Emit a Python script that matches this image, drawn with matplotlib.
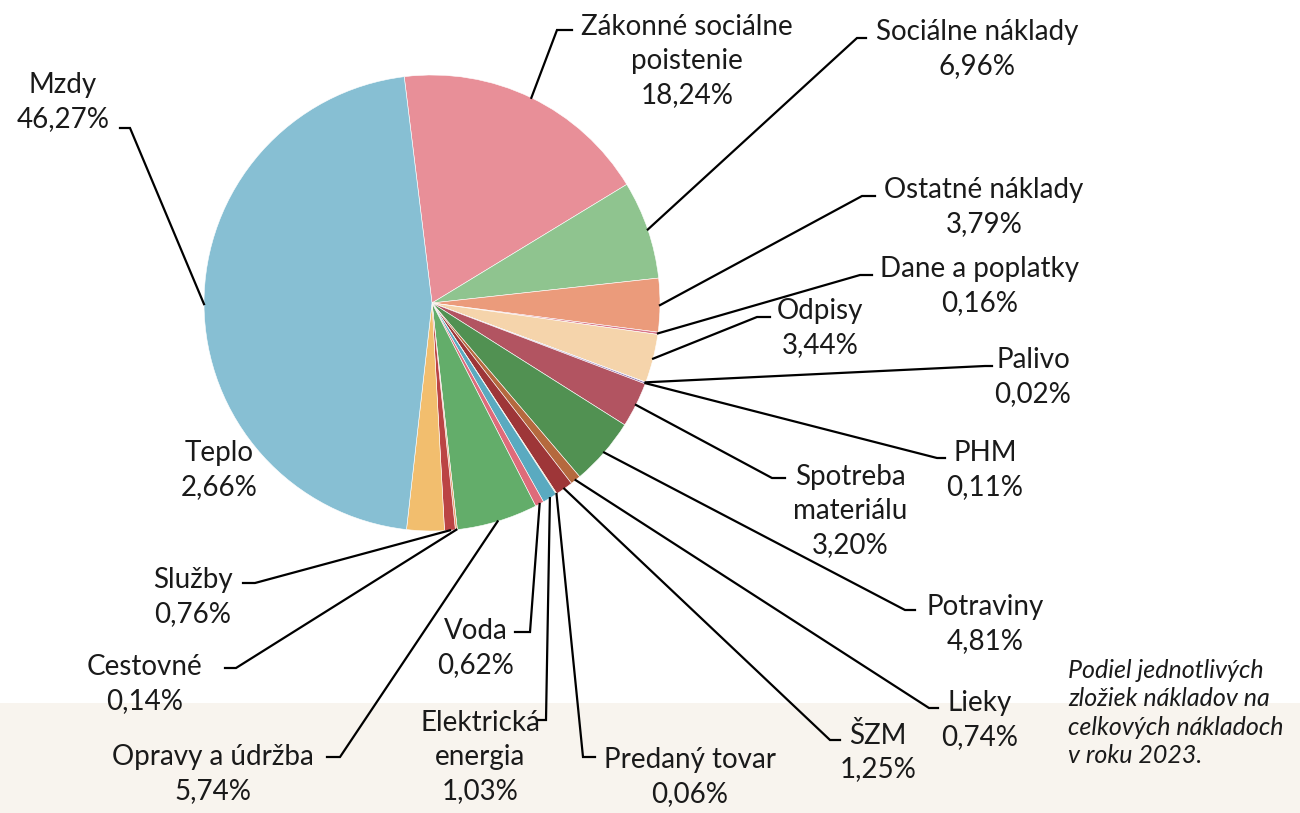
import numpy as np
import matplotlib.pyplot as plt
from matplotlib.patches import Rectangle

plt.rcParams['font.family'] = ['Lato', 'DejaVu Sans']

# Data (clockwise from the top)
labels = ["Zákonné sociálne\npoistenie", "Sociálne náklady", "Ostatné náklady", "Dane a poplatky",
          "Odpisy", "Palivo", "PHM", "Spotreba\nmateriálu", "Potraviny", "Lieky", "ŠZM",
          "Predaný tovar", "Elektrická\nenergia", "Voda", "Opravy a údržba", "Cestovné",
          "Služby", "Teplo", "Mzdy"]
values = [18.24, 6.96, 3.79, 0.16, 3.44, 0.02, 0.11, 3.20, 4.81, 0.74, 1.25,
          0.06, 1.03, 0.62, 5.74, 0.14, 0.76, 2.66, 46.27]
colors = ["#e88f98", "#8fc48f", "#eb9b7b", "#d9778a", "#f5d4ab", "#5aaac0", "#8a6fb0",
          "#b25461", "#519152", "#b5693e", "#9e3638", "#e0b050", "#5aaac0", "#de6b7a",
          "#63ad6a", "#e8a070", "#bb4444", "#f2be6e", "#87bfd3"]

W, H = 1300, 813
fig = plt.figure(figsize=(13, 8.13), dpi=100)
ax = fig.add_axes([0, 0, 1, 1])

def Y(y):
    return H - y

cx, cy, R = 432, Y(303), 228
wedges, _ = ax.pie(values, colors=colors, startangle=97, counterclock=False,
                   center=(cx, cy), radius=R, frame=True,
                   wedgeprops=dict(edgecolor='white', linewidth=0.4))
ax.set_xlim(0, W)
ax.set_ylim(0, H)
ax.set_aspect('equal')
ax.axis('off')

# beige band at the bottom
ax.add_patch(Rectangle((0, 0), W, Y(703), color="#f8f4ee", zorder=0, lw=0))

# label layout: (text x, text y, elbow x, elbow y, line end x)  in pixels from top-left
layout = [
    (687, 61, 557, 30, 572),
    (977, 49, 857, 38, 866),
    (984, 207, 862, 196, 875),
    (980, 286, 860, 275, 872),
    (820, 328, 757, 317, 770),
    (1033, 377, 985, 366, 992),
    (985, 470, 937, 458, 945),
    (850, 511, 772, 478, 785),
    (985, 624, 905, 610, 915),
    (980, 720, 929, 708, 938),
    (878, 752, 830, 740, 840),
    (690, 777, 583, 757, 595),
    (480, 757, 546, 720, 537),
    (476, 648, 530, 632, 515),
    (213, 774, 340, 757, 327),
    (145, 684, 236, 668, 225),
    (193, 597, 255, 583, 243),
    (219, 470, None, None, None),
    (63, 102, 130, 128, 120),
]

for w, lab, v, (tx, ty, ex, ey, lx) in zip(wedges, labels, values, layout):
    pct = f"{v:.2f}".replace('.', ',') + "%"
    ax.text(tx, Y(ty), f"{lab}\n{pct}", ha='center', va='center', fontsize=20,
            linespacing=1.38, color="#1a1a1a", zorder=5)
    if ex is None:
        continue
    mid = np.deg2rad((w.theta1 + w.theta2) / 2)
    px, py = cx + R * np.cos(mid), cy + R * np.sin(mid)
    ax.plot([px, ex, lx], [py, Y(ey), Y(ey)], color='black', lw=1.6, zorder=4,
            solid_joinstyle='miter')

ax.text(1068, Y(713), "Podiel jednotlivých\nzložiek nákladov na\ncelkových nákladoch\nv roku 2023.",
        ha='left', va='center', fontsize=18, style='italic', linespacing=1.28,
        color="#1a1a1a")

fig.savefig("out.png", dpi=100)
